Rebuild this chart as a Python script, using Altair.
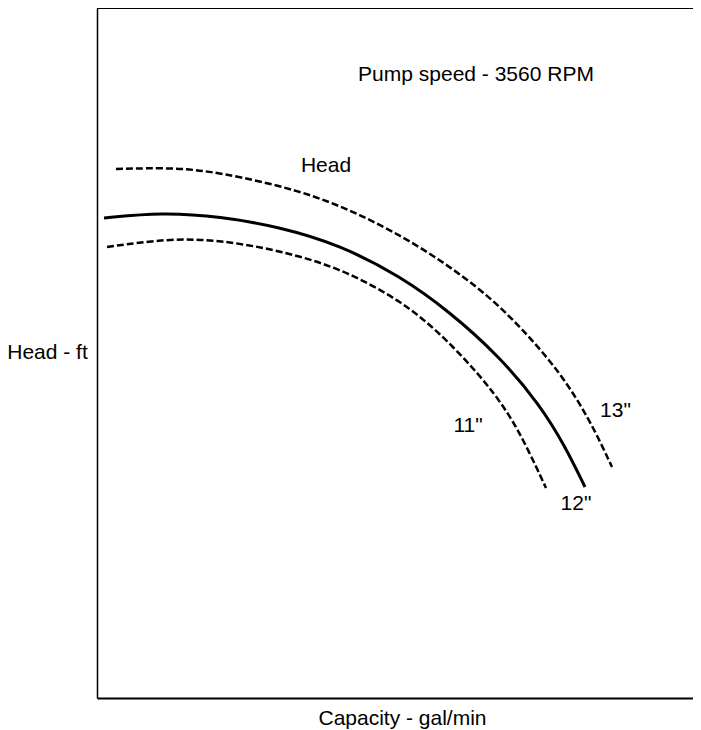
import altair as alt
import pandas as pd

# Capacity (arbitrary units, no ticks) and head readings for each impeller diameter
cap_13 = [19, 78, 123, 203, 263, 323, 383, 423, 463, 493, 515]
head_13 = [529, 530.5, 525.5, 508, 484, 452, 410, 372, 326, 278, 231]

cap_12 = [7, 65, 123, 183, 243, 303, 353, 403, 443, 468, 488]
head_12 = [480, 485.5, 481.5, 471, 453, 422, 386, 341, 293, 252, 211]

cap_11 = [10, 71, 123, 183, 243, 303, 343, 383, 411, 430, 449]
head_11 = [451, 459.5, 458, 447.5, 430, 398, 365, 323, 286, 251, 210]

label_text = ["Pump speed - 3560 RPM", "Head", '11"', '12"', '13"']
label_x = [379, 229, 371, 479, 518.5]
label_y = [623, 532, 272, 194, 287]

X_MAX = 596
Y_MAX = 690

def frame(caps, heads, name):
    return pd.DataFrame({"cap": caps, "head": heads, "dia": name, "order": range(len(caps))})

df13 = frame(cap_13, head_13, '13"')
df12 = frame(cap_12, head_12, '12"')
df11 = frame(cap_11, head_11, '11"')
labels = pd.DataFrame({"text": label_text, "x": label_x, "y": label_y})
top = pd.DataFrame({"y": [Y_MAX]})

xs = alt.Scale(domain=[0, X_MAX], nice=False, zero=False)
ys = alt.Scale(domain=[0, Y_MAX], nice=False, zero=False)

x_axis = alt.Axis(
    title="Capacity - gal/min", labels=False, ticks=False, grid=False,
    domain=True, domainColor="black", domainWidth=2,
    titleFont="Liberation Sans", titleFontSize=21, titleFontWeight="normal",
    titleColor="black", titleX=305, titleY=20, titleBaseline="middle",
    titleAlign="center",
)
y_axis = alt.Axis(
    title="Head - ft", labels=False, ticks=False, grid=False,
    domain=True, domainColor="black", domainWidth=1.5,
    titleFont="Liberation Sans", titleFontSize=21, titleFontWeight="normal",
    titleColor="black", titleAngle=0, titleX=-50, titleY=344,
    titleBaseline="middle", titleAlign="center",
)

base_enc = dict(
    x=alt.X("cap:Q", scale=xs, axis=x_axis),
    y=alt.Y("head:Q", scale=ys, axis=y_axis),
    order="order:Q",
)

dashed13 = alt.Chart(df13).mark_line(
    color="black", strokeWidth=2.5, strokeDash=[7, 3], interpolate="basis"
).encode(**base_enc)
solid12 = alt.Chart(df12).mark_line(
    color="black", strokeWidth=3, interpolate="basis"
).encode(**base_enc)
dashed11 = alt.Chart(df11).mark_line(
    color="black", strokeWidth=2.5, strokeDash=[7, 3], interpolate="basis"
).encode(**base_enc)

text = alt.Chart(labels).mark_text(
    font="Liberation Sans", fontSize=21, color="black", align="center", baseline="middle"
).encode(
    x=alt.X("x:Q", scale=xs),
    y=alt.Y("y:Q", scale=ys),
    text="text:N",
)

top_rule = alt.Chart(top).mark_rule(color="black", strokeWidth=2).encode(
    y=alt.Y("y:Q", scale=ys)
)

chart = alt.layer(dashed13, solid12, dashed11, text, top_rule).properties(
    width=X_MAX, height=Y_MAX,
    autosize=alt.AutoSizeParams(type="none"),
    padding={"left": 89, "top": 0, "right": 0, "bottom": 36},
).configure_view(stroke=None)

chart.save("out.html", embed_options={"renderer": "svg", "actions": False})
